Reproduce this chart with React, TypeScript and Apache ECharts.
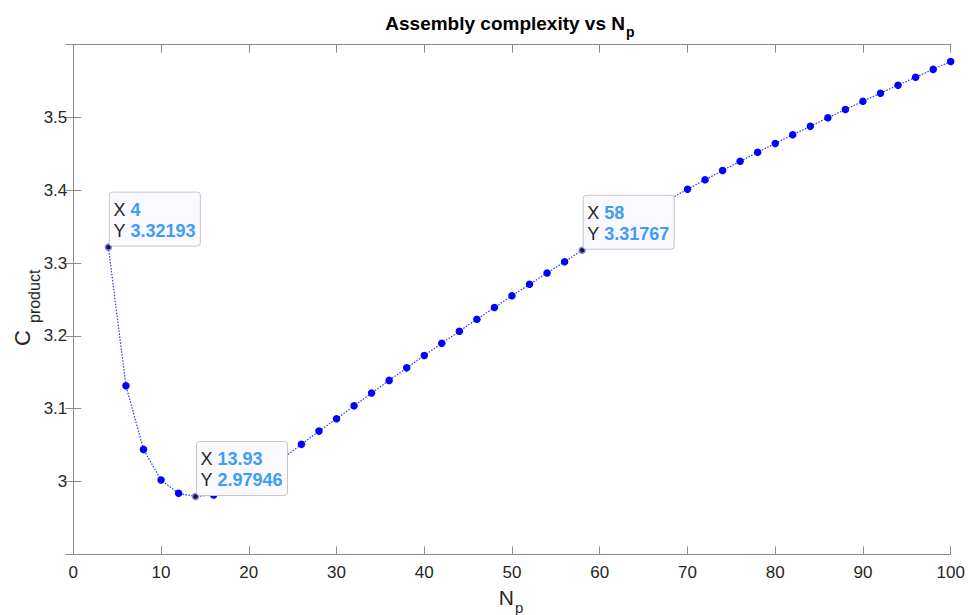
import React, { useEffect, useRef } from "react";
import * as echarts from "echarts";

// Data
const npValues = [
  4, 6, 8, 10, 12, 13.93, 16, 18, 20, 22, 24, 26, 28, 30, 32, 34, 36, 38, 40, 42, 44, 46, 48, 50,
  52, 54, 56, 58, 60, 62, 64, 66, 68, 70, 72, 74, 76, 78, 80, 82, 84, 86, 88, 90, 92, 94, 96, 98, 100,
];
const complexity = [
  3.32193, 3.1314, 3.0441, 3.002, 2.9837, 2.97946, 2.9814, 2.988, 2.9995, 3.015, 3.033, 3.051,
  3.0692, 3.0861, 3.1039, 3.1215, 3.1389, 3.1561, 3.1731, 3.1899, 3.2065, 3.2229, 3.2391, 3.2551,
  3.2709, 3.2865, 3.3019, 3.31767, 3.3323, 3.3466, 3.3606, 3.3744, 3.388, 3.4014, 3.4144, 3.4272,
  3.4398, 3.4522, 3.4644, 3.4763, 3.488, 3.4996, 3.511, 3.5223, 3.5334, 3.5444, 3.5553, 3.5661, 3.577,
];
const tipX = [4, 13.93, 58];
const tipY = [3.32193, 2.97946, 3.31767];

const xMin = 0;
const xMax = 100;
const xStep = 10;
const yMin = 2.9;
const yMax = 3.6;
const yStep = 0.1;

const FONT = "'Liberation Sans', Arial, Helvetica, sans-serif";
const AXIS_COLOR = "#8c8c8c";
const TEXT_COLOR = "#262626";

export default function App() {
  const ref = useRef<HTMLDivElement>(null);

  useEffect(() => {
    if (!ref.current) return;
    const chart = echarts.init(ref.current, undefined, { renderer: "svg" });

    const data = npValues.map((x, i) => {
      const isTip = tipX.indexOf(x) >= 0;
      return isTip
        ? {
            value: [x, complexity[i]],
            symbolSize: 6,
            itemStyle: { color: "#1a1a1a", borderColor: "#8080ff", borderWidth: 1.5 },
          }
        : { value: [x, complexity[i]] };
    });

    const tickStyle = { show: true, inside: true, length: 8, lineStyle: { color: AXIS_COLOR, width: 1 } };
    const lineStyle = { show: true, lineStyle: { color: AXIS_COLOR, width: 1 } };

    chart.setOption({
      animation: false,
      backgroundColor: "#ffffff",
      grid: { left: 73.3, right: 27.3, top: 44.7, bottom: 60.7, containLabel: false },
      xAxis: [
        {
          type: "value",
          min: xMin,
          max: xMax,
          interval: xStep,
          position: "bottom",
          axisLine: lineStyle,
          axisTick: tickStyle,
          splitLine: { show: false },
          axisLabel: { color: TEXT_COLOR, fontSize: 17, fontFamily: FONT, margin: 10 },
        },
        {
          type: "value",
          min: xMin,
          max: xMax,
          interval: xStep,
          position: "top",
          axisLine: lineStyle,
          axisTick: tickStyle,
          splitLine: { show: false },
          axisLabel: { show: false },
        },
      ],
      yAxis: [
        {
          type: "value",
          min: yMin,
          max: yMax,
          interval: yStep,
          position: "left",
          axisLine: lineStyle,
          axisTick: tickStyle,
          splitLine: { show: false },
          axisLabel: {
            color: TEXT_COLOR,
            fontSize: 17,
            fontFamily: FONT,
            margin: 6,
            showMinLabel: false,
            showMaxLabel: false,
            formatter: (v: number) => String(Math.round(v * 10) / 10),
          },
        },
        {
          type: "value",
          min: yMin,
          max: yMax,
          interval: yStep,
          position: "right",
          axisLine: lineStyle,
          axisTick: tickStyle,
          splitLine: { show: false },
          axisLabel: { show: false },
        },
      ],
      series: [
        {
          type: "line",
          xAxisIndex: 0,
          yAxisIndex: 0,
          data,
          symbol: "circle",
          symbolSize: 7.5,
          showAllSymbol: true,
          itemStyle: { color: "#0000ff" },
          lineStyle: { color: "#3030ff", width: 1.2, type: [1.5, 1.5] },
        },
      ],
    });

    const tips = tipX.map((x, i) => {
      const [px, py] = chart.convertToPixel({ seriesIndex: 0 }, [x, tipY[i]]) as number[];
      const rich = {
        k: { fontSize: 18, fontFamily: FONT, fill: TEXT_COLOR },
        v: { fontSize: 18, fontFamily: FONT, fontWeight: "bold", fill: "#3f9cf7" },
      };
      return {
        type: "group",
        x: px,
        y: py,
        z: 100,
        children: [
          {
            type: "rect",
            z: 100,
            shape: { x: 1, y: -55, width: 91, height: 54, r: 3 },
            style: { fill: "#f9f9fe", stroke: "#c6c6c6", lineWidth: 1 },
          },
          {
            type: "text",
            z: 101,
            x: 5,
            y: -37.5,
            style: {
              text: `{k|X} {v|${String(x)}}`,
              rich,
              fontSize: 18,
              fontFamily: FONT,
              verticalAlign: "middle",
              align: "left",
            },
          },
          {
            type: "text",
            z: 101,
            x: 5,
            y: -16.3,
            style: {
              text: `{k|Y} {v|${String(tipY[i])}}`,
              rich,
              fontSize: 18,
              fontFamily: FONT,
              verticalAlign: "middle",
              align: "left",
            },
          },
        ],
      };
    });

    chart.setOption({
      graphic: [
        // title
        {
          type: "text",
          x: 625,
          y: 23,
          style: {
            text: "Assembly complexity vs N",
            fontSize: 19,
            fontWeight: "bold",
            fontFamily: FONT,
            fill: "#000000",
            align: "right",
            verticalAlign: "middle",
          },
        },
        {
          type: "text",
          x: 626,
          y: 32,
          style: {
            text: "p",
            fontSize: 14,
            fontWeight: "bold",
            fontFamily: FONT,
            fill: "#000000",
            align: "left",
            verticalAlign: "middle",
          },
        },
        // x axis name
        {
          type: "text",
          x: 514,
          y: 597,
          style: { text: "N", fontSize: 21, fontFamily: FONT, fill: TEXT_COLOR, align: "right", verticalAlign: "middle" },
        },
        {
          type: "text",
          x: 515,
          y: 607,
          style: { text: "p", fontSize: 15, fontFamily: FONT, fill: TEXT_COLOR, align: "left", verticalAlign: "middle" },
        },
        // y axis name
        {
          type: "text",
          x: 22,
          y: 346,
          rotation: Math.PI / 2,
          style: { text: "C", fontSize: 22, fontFamily: FONT, fill: TEXT_COLOR, align: "left", verticalAlign: "middle" },
        },
        {
          type: "text",
          x: 34,
          y: 323,
          rotation: Math.PI / 2,
          style: { text: "product", fontSize: 16, fontFamily: FONT, fill: TEXT_COLOR, align: "left", verticalAlign: "middle" },
        },
        ...tips,
      ],
    });

    return () => chart.dispose();
  }, []);

  return (
    <div
      ref={ref}
      style={{ position: "fixed", left: 0, top: 0, width: 978, height: 615, background: "#fff" }}
    />
  );
}
